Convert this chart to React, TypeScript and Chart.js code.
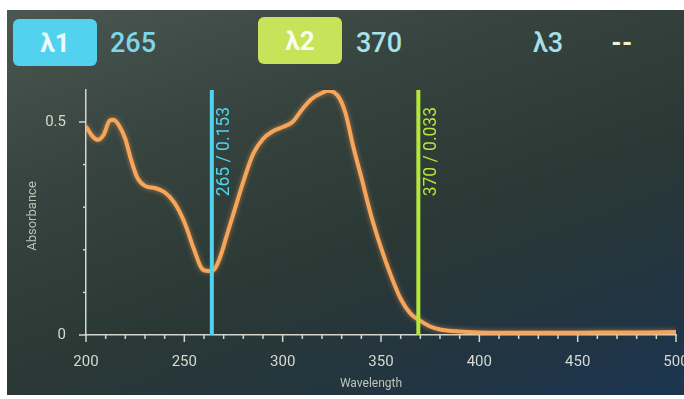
import React, { useEffect, useRef } from "react";
import { Chart, registerables } from "chart.js";

Chart.register(...registerables);

const wavelengths = [200, 203, 206, 209, 212, 214, 217, 220, 223, 226, 230, 235, 240, 245, 250, 255, 259, 262, 265, 268, 272, 276, 280, 285, 290, 295, 300, 305, 310, 315, 320, 323, 326, 329, 332, 336, 340, 345, 350, 355, 360, 365, 370, 375, 380, 390, 400, 420, 440, 460, 480, 500];
const absorbance = [0.49, 0.468, 0.458, 0.47, 0.503, 0.505, 0.49, 0.46, 0.41, 0.37, 0.35, 0.345, 0.335, 0.31, 0.265, 0.2, 0.155, 0.15, 0.153, 0.18, 0.24, 0.3, 0.36, 0.425, 0.46, 0.478, 0.488, 0.5, 0.53, 0.555, 0.568, 0.573, 0.57, 0.555, 0.52, 0.44, 0.37, 0.28, 0.205, 0.14, 0.085, 0.05, 0.033, 0.02, 0.013, 0.008, 0.006, 0.005, 0.005, 0.006, 0.006, 0.007];
const xTickValues = [200, 250, 300, 350, 400, 450, 500];
const yTickValues = [0, 0.5];
const markerLabels = ["λ1", "λ2", "λ3"];
const markerWavelengths = [265, 370];
const markerValues = ["0.153", "0.033"];
const markerColors = ["#52d2ef", "#b4e63c"];

const AXIS_COLOR = "#d2d6cc";

const markerPlugin = {
  id: "markers",
  beforeDatasetsDraw(chart: any) {
    const ctx = chart.ctx;
    ctx.save();
    ctx.shadowColor = "rgba(255,170,90,0.55)";
    ctx.shadowBlur = 5;
  },
  afterDatasetsDraw(chart: any) {
    const ctx = chart.ctx;
    ctx.restore();
    const { top, bottom, left } = chart.chartArea;
    const xs = chart.scales.x;
    const ys = chart.scales.y;
    ctx.save();
    ctx.strokeStyle = AXIS_COLOR;
    ctx.lineWidth = 1.5;
    for (let w = 200; w <= 500; w += 10) {
      const px = xs.getPixelForValue(w);
      const len = w % 50 === 0 ? 7 : 4;
      ctx.beginPath();
      ctx.moveTo(px, bottom);
      ctx.lineTo(px, bottom + len);
      ctx.stroke();
    }
    for (let v = 0; v <= 0.5001; v += 0.1) {
      const py = ys.getPixelForValue(v);
      const major = Math.abs(v) < 1e-6 || Math.abs(v - 0.5) < 1e-6;
      ctx.beginPath();
      ctx.moveTo(left, py);
      ctx.lineTo(left - (major ? 7 : 3), py);
      ctx.stroke();
    }
    ctx.restore();
    markerWavelengths.forEach((w, i) => {
      const px = xs.getPixelForValue(w) - 2;
      ctx.save();
      ctx.strokeStyle = markerColors[i];
      ctx.lineWidth = 4;
      ctx.beginPath();
      ctx.moveTo(px, top);
      ctx.lineTo(px, bottom);
      ctx.stroke();
      ctx.translate(px + 13, top + 17);
      ctx.rotate(-Math.PI / 2);
      ctx.fillStyle = markerColors[i];
      ctx.font = "17.5px Roboto";
      ctx.textAlign = "right";
      ctx.textBaseline = "middle";
      ctx.fillText(`${w} / ${markerValues[i]}`, 0, 0);
      ctx.restore();
    });
    ctx.save();
    ctx.fillStyle = "#bcc4b6";
    ctx.textAlign = "center";
    ctx.textBaseline = "middle";
    ctx.font = "12px Roboto";
    ctx.fillText("Wavelength", 371, 384);
    ctx.font = "13px Roboto";
    ctx.translate(33, 216);
    ctx.rotate(-Math.PI / 2);
    ctx.fillText("Absorbance", 0, 0);
    ctx.restore();
  },
};

function ChartCanvas() {
  const ref = useRef<HTMLCanvasElement>(null);
  useEffect(() => {
    document.body.style.margin = "0";
    const chart = new Chart(ref.current!, {
      type: "line",
      data: {
        datasets: [
          {
            data: wavelengths.map((w, i) => ({ x: w, y: absorbance[i] })),
            borderColor: "#f7a55a",
            borderWidth: 4,
            pointRadius: 0,
            cubicInterpolationMode: "monotone",
            fill: false,
          },
        ],
      },
      options: {
        animation: false,
        responsive: false,
        maintainAspectRatio: false,
        layout: { padding: { left: 0, right: 44, top: 90, bottom: 0 } },
        plugins: { legend: { display: false }, tooltip: { enabled: false } },
        scales: {
          x: {
            type: "linear",
            min: 200,
            max: 500,
            afterFit: (s: any) => {
              s.height = 64;
            },
            afterBuildTicks: (s: any) => {
              s.ticks = xTickValues.map((v) => ({ value: v }));
            },
            grid: { display: false },
            border: { display: true, color: AXIS_COLOR, width: 1.5 },
            ticks: {
              color: "#d6d9cf",
              font: { family: "Roboto", size: 15 },
              padding: 10,
              maxRotation: 0,
              autoSkip: false,
            },
          },
          y: {
            type: "linear",
            min: 0,
            max: 0.575,
            afterFit: (s: any) => {
              s.width = 86;
            },
            afterBuildTicks: (s: any) => {
              s.ticks = yTickValues.map((v) => ({ value: v }));
            },
            grid: { display: false },
            border: { display: true, color: AXIS_COLOR, width: 1.5 },
            ticks: {
              color: "#d6d9cf",
              font: { family: "Roboto", size: 15 },
              padding: 12,
              callback: (v: any) => String(v),
            },
          },
        },
      },
      plugins: [markerPlugin],
    });
    return () => chart.destroy();
  }, []);
  return (
    <canvas
      ref={ref}
      width={720}
      height={399}
      style={{ position: "absolute", left: 0, top: 0, width: 720, height: 399 }}
    />
  );
}

export default function App() {
  const box = (bg: string, left: number, top: number, label: string) => (
    <div
      style={{
        position: "absolute",
        left,
        top,
        width: 84,
        height: 47,
        borderRadius: 6,
        background: bg,
        color: "rgba(255,255,255,0.92)",
        fontFamily: "Roboto",
        fontSize: 26,
        fontWeight: 700,
        display: "flex",
        alignItems: "center",
        justifyContent: "center",
      }}
    >
      {label}
    </div>
  );
  const txt = (s: string, left: number, color: string, size = 27, weight = 500) => (
    <div
      style={{
        position: "absolute",
        left,
        top: 27,
        fontFamily: "Roboto",
        fontSize: size,
        fontWeight: weight,
        color,
        lineHeight: "32px",
        whiteSpace: "nowrap",
      }}
    >
      {s}
    </div>
  );
  return (
    <div style={{ position: "relative", width: 684, height: 399, overflow: "hidden", background: "#ffffff" }}>
      <div
        style={{
          position: "absolute",
          left: 7,
          top: 10,
          right: 0,
          bottom: 4,
          background: "linear-gradient(160deg, #4b5751 0%, #36433e 30%, #2a3835 60%, #213443 85%, #1b3552 100%)",
        }}
      />
      {box(markerColors[0], 13, 19, markerLabels[0])}
      {txt(String(markerWavelengths[0]), 110, "#7fd6ea")}
      {box("#c6e35a", 258, 17, markerLabels[1])}
      {txt(String(markerWavelengths[1]), 356, "#a8e2ea")}
      {txt(markerLabels[2], 533, "#a8e0ea")}
      {txt("--", 611, "#f2f0d0", 24, 900)}
      <ChartCanvas />
    </div>
  );
}
